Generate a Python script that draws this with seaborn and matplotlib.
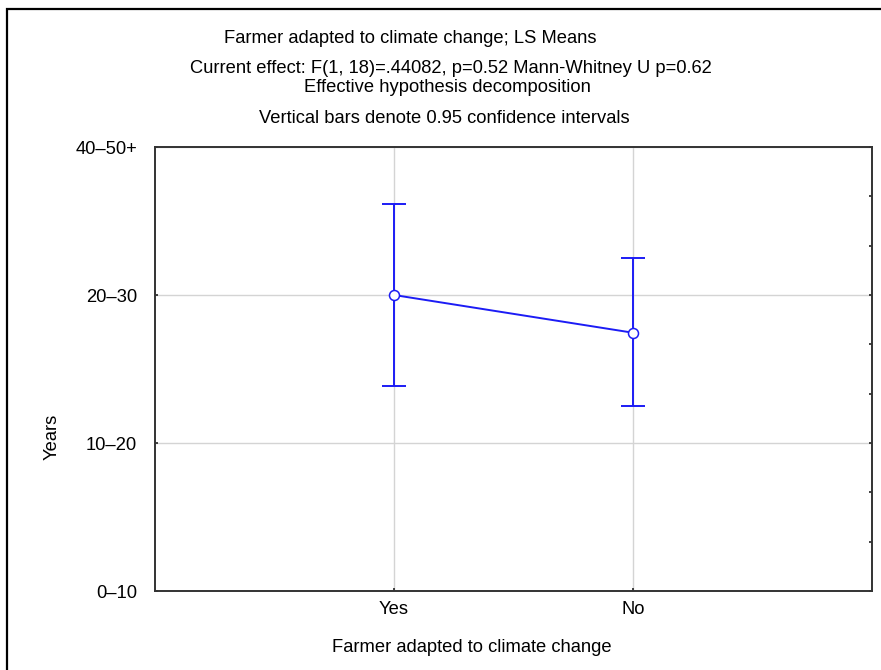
import matplotlib
matplotlib.use("Agg")
import matplotlib.pyplot as plt
import seaborn as sns
import pandas as pd
import numpy as np
from matplotlib.patches import Rectangle
from matplotlib.ticker import FixedLocator

# ---- data ----
categories = ["Yes", "No"]
means = [3.0, 2.745]
ci_low = [2.387, 2.25]
ci_high = [3.615, 3.25]
ytick_values = [1, 2, 3, 4]
ytick_labels = ["0–10", "10–20", "20–30", "40–50+"]
title_lines = [
    "Farmer adapted to climate change; LS Means",
    "Current effect: F(1, 18)=.44082, p=0.52 Mann-Whitney U p=0.62",
    "Effective hypothesis decomposition",
    "Vertical bars denote 0.95 confidence intervals",
]
xlabel = "Farmer adapted to climate change"
ylabel = "Years"

sns.set_theme(style="white")
plt.rcParams['font.family'] = ['Liberation Sans', 'DejaVu Sans']

W, H = 881, 670
fig = plt.figure(figsize=(W / 100, H / 100), dpi=100)
fig.patch.set_facecolor("white")
L, R, T, B = 155, 872, 147, 591
ax = fig.add_axes([L / W, 1 - B / H, (R - L) / W, (B - T) / H])
ax.set_facecolor("white")

blue = "#1c1cf5"
FS = 13.2

df = pd.DataFrame({"cat": categories, "mean": means,
                   "low": ci_low, "high": ci_high})
xpos = np.arange(len(categories))
yerr = [df["mean"] - df["low"], df["high"] - df["mean"]]
ax.errorbar(xpos, df["mean"], yerr=yerr, fmt="none", ecolor=blue,
            elinewidth=1.4, capsize=8.4, capthick=1.4, zorder=2)
sns.pointplot(data=df, x="cat", y="mean", order=categories, color=blue,
              errorbar=None, markers="o", linestyles="-", ax=ax,
              linewidth=1.4, markersize=7.2, markeredgewidth=1.1)
for ln in ax.lines:
    ln.set_markerfacecolor("white")
    ln.set_markeredgecolor(blue)
    ln.set_zorder(3)

ax.set_xlim(-1, 2)
ax.set_ylim(1, 4)
ax.set_yticks(ytick_values)
ax.set_yticklabels(ytick_labels)
ax.set_xticks(xpos)
ax.set_xticklabels(categories)
ax.set_xlabel("")
ax.set_ylabel("")
ax.yaxis.set_minor_locator(FixedLocator(
    [v + k / 3 for v in ytick_values[:-1] for k in (1, 2)]))

ax.grid(True, which="major", color="#d4d4d4", linewidth=1.0)
ax.set_axisbelow(True)

for s in ax.spines.values():
    s.set_color("#333333")
    s.set_linewidth(1.4)
    s.set_visible(True)

ax.tick_params(axis="y", which="major", direction="in", length=2.5,
               width=1.2, color="#222222", left=True, right=True,
               labelsize=FS, pad=13, labelcolor="black")
ax.tick_params(axis="y", which="minor", direction="in", length=2.5,
               width=1.2, color="#222222", left=False, right=True)
ax.tick_params(axis="x", which="major", direction="in", length=2.5,
               width=1.2, color="#222222", bottom=True, top=False,
               labelsize=FS, pad=7, labelcolor="black")

# titles
centers = [410, 451, 447, 444]
baselines = [43, 73, 92, 123]
for txt, cx, by in zip(title_lines, centers, baselines):
    fig.text(cx / W, 1 - by / H, txt, ha="center", va="baseline",
             fontsize=FS, color="black")

fig.text(472 / W, 1 - 648 / H, xlabel, ha="center", va="center",
         fontsize=FS, color="black")
fig.text(52 / W, 1 - 437 / H, ylabel, ha="center", va="center",
         rotation=90, fontsize=FS, color="black")

# outer frame (extends beyond right/bottom edges)
fig.patches.append(Rectangle((7 / W, -0.5), 2.0, (H - 9) / H + 0.5,
                             transform=fig.transFigure, fill=False,
                             edgecolor="black", linewidth=1.6))

fig.savefig("out.png", dpi=100)
